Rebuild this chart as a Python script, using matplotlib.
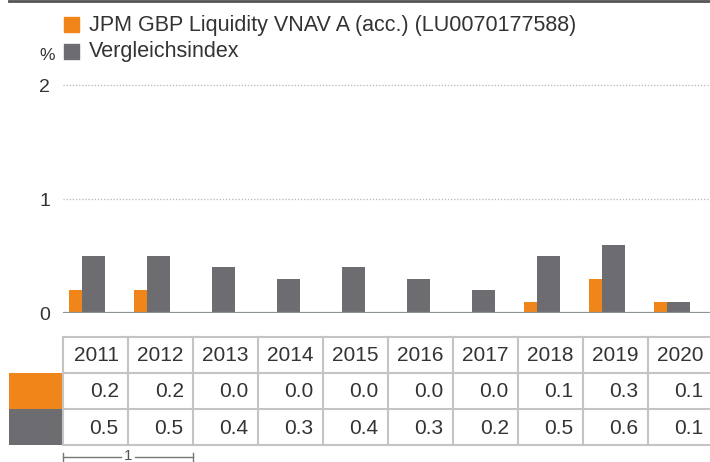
import matplotlib
matplotlib.use("Agg")
import matplotlib.pyplot as plt
from matplotlib.patches import Rectangle

plt.rcParams['font.family'] = ['Liberation Sans', 'DejaVu Sans']

years = ['2011', '2012', '2013', '2014', '2015', '2016', '2017', '2018', '2019', '2020']
fund = [0.2, 0.2, 0.0, 0.0, 0.0, 0.0, 0.0, 0.1, 0.3, 0.1]
index = [0.5, 0.5, 0.4, 0.3, 0.4, 0.3, 0.2, 0.5, 0.6, 0.1]
fund_name = 'JPM GBP Liquidity VNAV A (acc.) (LU0070177588)'
index_name = 'Vergleichsindex'
yticks = [0, 1, 2]

orange = '#F0861A'
grey = '#6D6C71'
txt = '#333333'
line_col = '#c4c4c4'

W, H = 710, 462
fig = plt.figure(figsize=(W / 100, H / 100), dpi=100)

# pixel layout
x0 = 62.7      # left edge of plot / table
colw = 65.0    # width of one year column
y_zero = 313.0
px_per_unit = 114.0
ymax = 2.1

ax = fig.add_axes([x0 / W, (H - y_zero) / H, colw * len(years) / W, ymax * px_per_unit / H])
n = len(years)
pos = list(range(n))
ax.bar([p + 0.1 for p in pos], fund, width=0.2, align='edge', color=orange, zorder=2)
ax.bar([p + 0.3 for p in pos], index, width=0.35, align='edge', color=grey, zorder=2)
for v in yticks[1:]:
    ax.axhline(v, color='#b5b5b5', lw=0.9, ls=(0, (1, 1.5)), zorder=1)
ax.axhline(0, color='#8c9396', lw=1.6, zorder=3)
ax.set_xlim(0, n)
ax.set_ylim(0, ymax)
ax.set_xticks([])
ax.set_yticks(yticks)
ax.set_yticklabels([str(v) for v in yticks], fontsize=14, color=txt)
ax.tick_params(axis='y', length=0, pad=9)
for s in ax.spines.values():
    s.set_visible(False)
ax.patch.set_alpha(0)

# overlay in pixel coordinates for legend, table and frame
ov = fig.add_axes([0, 0, 1, 1])
ov.set_xlim(0, W)
ov.set_ylim(H, 0)
ov.axis('off')
ov.patch.set_alpha(0)

# top rule
ov.plot([9, W], [0.8, 0.8], color='#555555', lw=2)

# legend
ov.add_patch(Rectangle((64, 17), 15, 15, color=orange))
ov.text(89, 25, fund_name, fontsize=15.5, color=txt, va='center', ha='left')
ov.add_patch(Rectangle((64, 44), 15, 15, color=grey))
ov.text(89, 52, index_name, fontsize=15.5, color=txt, va='center', ha='left')
ov.text(55, 60, '%', fontsize=12.5, color=txt, ha='right', va='baseline')

# table
rows_y = [337, 372.7, 409, 445]
x_right = x0 + colw * n
ov.add_patch(Rectangle((9, rows_y[1]), x0 - 9, rows_y[2] - rows_y[1], color=orange, lw=0))
ov.add_patch(Rectangle((9, rows_y[2]), x0 - 9, rows_y[3] - rows_y[2], color=grey, lw=0))
for y in rows_y:
    ov.plot([x0, x_right], [y, y], color=line_col, lw=1.5)
for i in range(n + 1):
    x = x0 + colw * i
    ov.plot([x, x], [rows_y[0], rows_y[3]], color=line_col, lw=1.5)

row_values = [years, [f'{v:.1f}' for v in fund], [f'{v:.1f}' for v in index]]
for r, vals in enumerate(row_values):
    yc = (rows_y[r] + rows_y[r + 1]) / 2 + 1
    for i, s in enumerate(vals):
        ov.text(x0 + colw * (i + 1) - 9, yc, s, fontsize=15, color=txt,
                ha='right', va='center')

# scale bracket under the table
by = 456.7
bx1, bx2 = x0, x0 + 2 * colw
bmid = (bx1 + bx2) / 2
ov.plot([bx1, bmid - 7], [by, by], color='#777777', lw=1)
ov.plot([bmid + 7, bx2], [by, by], color='#777777', lw=1)
ov.plot([bx1, bx1], [452.7, 462], color='#777777', lw=1)
ov.plot([bx2, bx2], [452.7, 462], color='#777777', lw=1)
ov.text(bmid, 455.5, '1', fontsize=11, color='#555555', ha='center', va='center')

fig.savefig('out.png', dpi=100)
